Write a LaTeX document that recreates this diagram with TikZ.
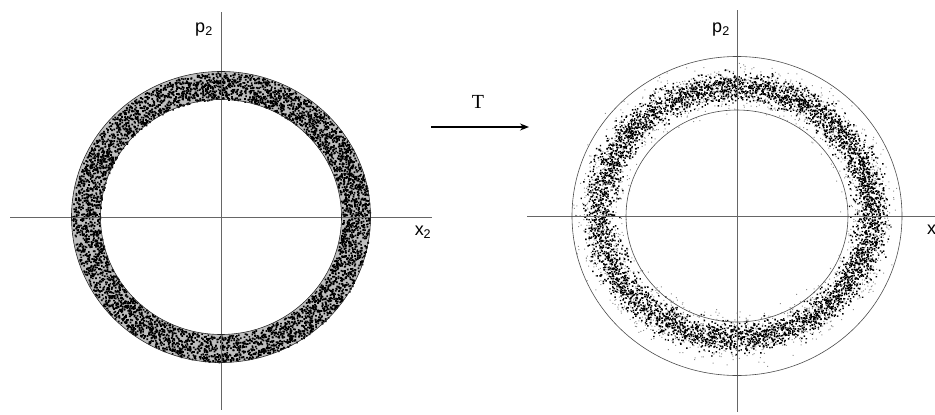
\documentclass[tikz,border=0pt]{standalone}
\usepackage{fontspec}
\setmainfont{Liberation Serif}
\setsansfont{Liberation Sans}
\usetikzlibrary{positioning,arrows.meta}

\begin{document}
\begin{tikzpicture}[x=1pt,y=-1pt,font=\sffamily]
\tikzset{
  AX/.style={draw=black!60,line width=0.5pt},
  RG/.style={draw=black!85,line width=0.6pt},
  LB/.style={font=\fontsize{18}{18}\selectfont\sffamily,inner sep=0pt},
  TL/.style={font=\fontsize{20}{20}\selectfont\rmfamily,inner sep=0pt},
  FL/.style={-{Stealth[length=9pt,width=7pt]},line width=1.3pt},
}
\useasboundingbox (0,0) rectangle (935,415);
\pgfmathsetseed{4711}

% left phase plane
\coordinate (lc) at (221,217);
\coordinate (lw) at (10,217);
\coordinate (le) at (432,217);
\coordinate (ln) at (221,12);
\coordinate (ls) at (221,410);
\fill[black!25,even odd rule] (lc) ellipse[x radius=149.5pt,y radius=145.5pt]
  (lc) ellipse[x radius=120.5pt,y radius=117.5pt];
\foreach \k in {1,...,40}{
  \fill \foreach \i in {1,...,135}{
    \pgfextra{
      \pgfmathsetmacro\a{360*rnd}
      \pgfmathsetmacro\s{0.81+0.185*rnd}
      \pgfmathsetmacro\px{221+\s*149.5*cos(\a)}
      \pgfmathsetmacro\py{217+\s*145.5*sin(\a)}}
    (\px,\py) rectangle +(1.7,1.7)};
}
\draw[AX] (lw) -- (le);
\draw[AX] (ln) -- (ls);
\draw[RG] (lc) ellipse[x radius=149.5pt,y radius=145.5pt];
\draw[RG] (lc) ellipse[x radius=120.5pt,y radius=117.5pt];
\node[LB] (pl) at (204,30) {p\textsubscript{2}};
\node[LB] (xl) at (423,232) {x\textsubscript{2}};

% map
\coordinate (ta) at (431,127);
\coordinate (tb) at (529,127);
\draw[FL] (ta) -- (tb);
\node[TL] (T) at (478,102) {T};

% right phase plane
\coordinate (rc) at (737,216);
\coordinate (rw) at (527,216);
\coordinate (re) at (935,216);
\coordinate (rn) at (737,10);
\coordinate (rs) at (737,412);
\foreach \k in {1,...,28}{
  \fill[black!45] \foreach \i in {1,...,100}{
    \pgfextra{
      \pgfmathsetmacro\a{360*rnd}
      \pgfmathsetmacro\s{1+0.25*(rand+rand+rand)/3}
      \pgfmathsetmacro\px{735+\s*136*cos(\a)}
      \pgfmathsetmacro\py{212+\s*126*sin(\a)}}
    (\px,\py) rectangle +(1,1)};
}
\foreach \k in {1,...,40}{
  \fill \foreach \i in {1,...,120}{
    \pgfextra{
      \pgfmathsetmacro\a{360*rnd}
      \pgfmathsetmacro\s{1+0.17*(rand+rand+rand)/3}
      \pgfmathsetmacro\px{735+\s*136*cos(\a)}
      \pgfmathsetmacro\py{212+\s*126*sin(\a)}}
    (\px,\py) rectangle +(1.45,1.45)};
}
\draw[AX] (rw) -- (re);
\draw[AX] (rn) -- (rs);
\draw[RG,draw=black!70] (rc) ellipse[x radius=165pt,y radius=159.5pt];
\draw[RG,draw=black!70] (rc) ellipse[x radius=111pt,y radius=106pt];
\node[LB] (pr) at (721,30) {p\textsubscript{2}};
\node[LB,anchor=west] (xr) at (927,231) {x\textsubscript{2}};
\end{tikzpicture}
\end{document}
